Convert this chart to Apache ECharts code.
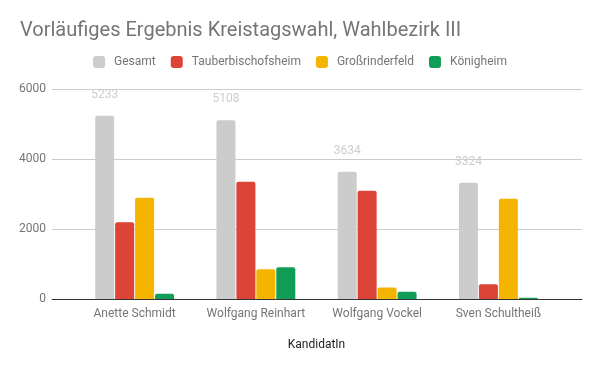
<!DOCTYPE html>
<html>
<head>
<meta charset="utf-8">
<script src="https://cdn.jsdelivr.net/npm/echarts@6/dist/echarts.min.js"></script>
<style>html,body{margin:0;padding:0;background:#fff}#c{width:600px;height:371px}</style>
</head>
<body>
<div id="c"></div>
<script>
const titleText = 'Vorläufiges Ergebnis Kreistagswahl, Wahlbezirk III';
const categories = ['Anette Schmidt', 'Wolfgang Reinhart', 'Wolfgang Vockel', 'Sven Schultheiß'];
const seriesNames = ['Gesamt', 'Tauberbischofsheim', 'Großrinderfeld', 'Königheim'];
const gesamt = [5233, 5108, 3634, 3324];
const tauberbischofsheim = [2190, 3350, 3095, 420];
const grossrinderfeld = [2890, 850, 330, 2866];
const koenigheim = [153, 908, 209, 38];
const xAxisName = 'KandidatIn';
const yMin = 0, yMax = 6000, yInterval = 2000;

const colors = ['#cccccc', '#db4437', '#f4b400', '#0f9d58'];
const values = [gesamt, tauberbischofsheim, grossrinderfeld, koenigheim];
const font = 'Roboto';

const chart = echarts.init(document.getElementById('c'), null, {renderer: 'canvas'});
chart.setOption({
  animation: false,
  color: colors,
  title: {
    text: titleText, left: 15, top: 16,
    textStyle: {fontFamily: font, fontSize: 20, fontWeight: 'normal', color: '#757575'}
  },
  legend: {
    data: seriesNames, top: 51, left: 'center',
    itemWidth: 12, itemHeight: 12, itemGap: 15,
    icon: 'roundRect',
    textStyle: {fontFamily: font, fontSize: 12, color: '#757575', padding: [0, 0, 0, 4]}
  },
  grid: [
    {left: 52, right: 18, top: 89, bottom: 72},
    {left: 74, right: 41, top: 89, bottom: 72}
  ],
  xAxis: [
    {gridIndex: 0, type: 'category', data: [''], axisTick: {show: false}, axisLabel: {show: false},
     axisLine: {show: true, lineStyle: {color: '#333333', width: 1}}, z: 5},
    {gridIndex: 1, type: 'category', data: categories, axisTick: {show: false},
     axisLine: {show: false},
     axisLabel: {interval: 0, fontFamily: font, fontSize: 12, color: '#757575', margin: 9},
     name: xAxisName, nameLocation: 'middle', nameGap: 40,
     nameTextStyle: {fontFamily: font, fontSize: 12, color: '#222222'}}
  ],
  yAxis: [
    {gridIndex: 0, type: 'value', min: yMin, max: yMax, interval: yInterval,
     axisLine: {show: false}, axisTick: {show: false},
     axisLabel: {fontFamily: font, fontSize: 12, color: '#757575', margin: 6,
       formatter: v => String(v)},
     splitLine: {lineStyle: {color: ['#333333', '#cccccc', '#cccccc', '#cccccc'], width: 1}}},
    {gridIndex: 1, type: 'value', min: yMin, max: yMax, interval: yInterval, show: false,
     splitLine: {show: false}}
  ],
  series: seriesNames.map((n, i) => ({
    name: n, type: 'bar', xAxisIndex: 1, yAxisIndex: 1,
    data: values[i], barWidth: 19, barGap: '5%',
    itemStyle: {color: colors[i], borderRadius: [2, 2, 0, 0]},
    label: i === 0 ? {show: true, position: 'top', distance: 15,
      fontFamily: font, fontSize: 12, color: '#cccccc'} : {show: false}
  }))
});
</script>
</body>
</html>
